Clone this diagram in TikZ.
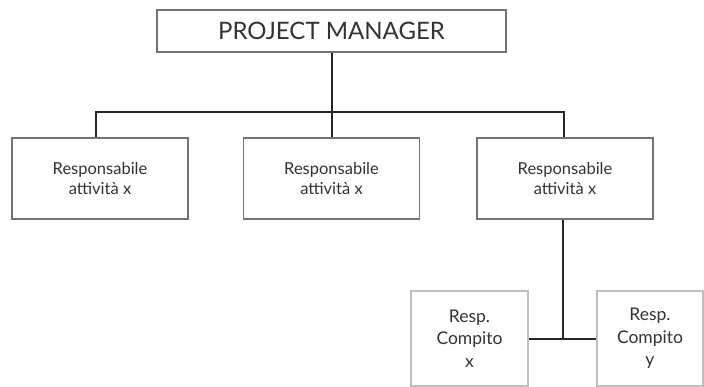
\documentclass[tikz,border=0pt]{standalone}
\usepackage{fontspec}
\setmainfont{Lato}
\begin{document}
\begin{tikzpicture}[x=1pt,y=-1pt,
  box/.style={draw=black!55,line width=1.3pt,fill=white,rectangle,inner sep=0pt,align=center,text=black!80},
  taskbox/.style={draw=black!25,line width=1.1pt,fill=white,rectangle,inner sep=0pt,align=center,text=black!80},
  link/.style={draw=black!85,line width=2pt}]
\useasboundingbox (0,0) rectangle (704,387);
% top level
\node[box,minimum width=349pt,minimum height=42pt,font=\fontsize{24}{28}\selectfont] (pm) at (331.5,31) {PROJECT MANAGER};
% activity leaders
\begin{scope}[every node/.style={box,minimum width=176pt,minimum height=81pt,font=\fontsize{16.5}{19.5}\selectfont}]
\node (a1) at (100,178.5) {Responsabile\\attività x};
\node (a2) at (331.5,178.5) {Responsabile\\attività x};
\node (a3) at (565,178.5) {Responsabile\\attività x};
\end{scope}
% task leaders
\begin{scope}[every node/.style={taskbox,minimum height=95pt,font=\fontsize{17.5}{22.5}\selectfont}]
\node[minimum width=117pt] (c1) at (469.5,338.5) {Resp.\\Compito\\x};
\node[minimum width=106pt] (c2) at (650,338.5) {Resp.\\Compito\\y};
\end{scope}
% connectors
\coordinate (bus) at (331.5,112);
\draw[link] (pm.south) -- (bus);
\draw[link] ([xshift=-4pt]a1.north) |- (bus);
\draw[link] (a2.north) -- (bus);
\draw[link] ([xshift=-1pt]a3.north) |- (bus);
\draw[link] ([xshift=-2pt]a3.south) -- ([xshift=-2pt]a3.south |- c1.east);
\draw[link] (c1.east) -- (c2.west);
\end{tikzpicture}
\end{document}
